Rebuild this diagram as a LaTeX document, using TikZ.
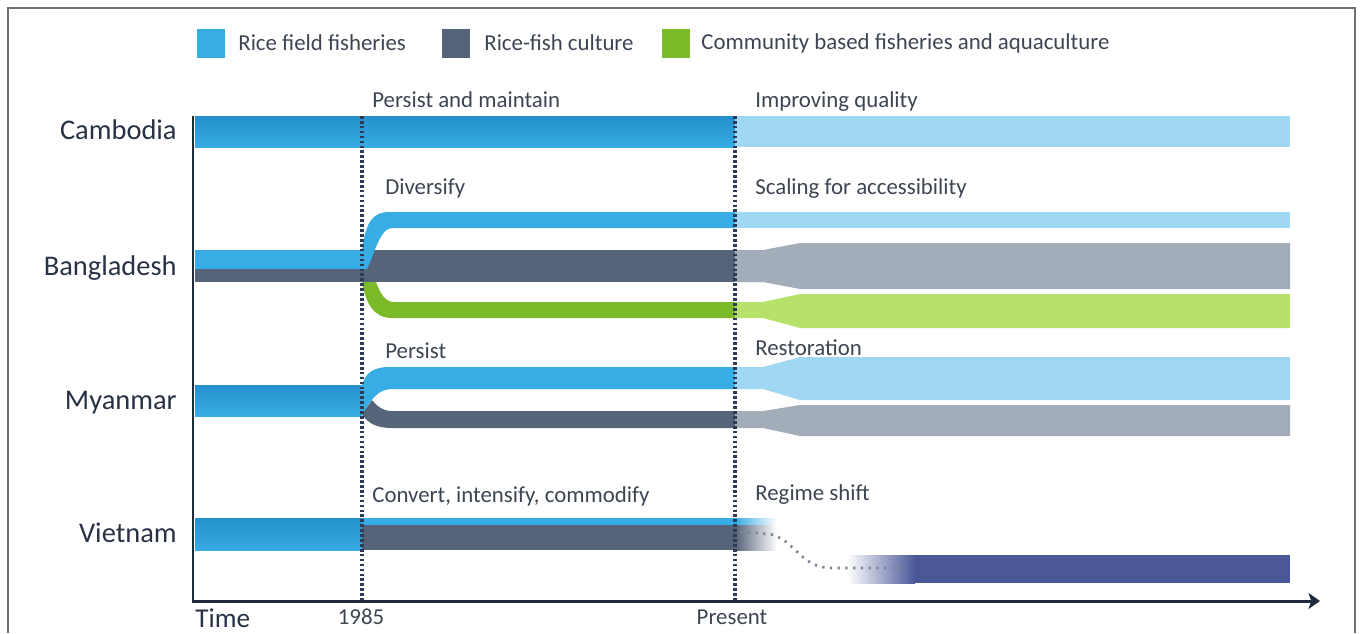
\documentclass[tikz,border=0pt]{standalone}
\usepackage{fontspec}
\setmainfont{Carlito}
\usetikzlibrary{arrows.meta}

\definecolor{rfblue}{HTML}{38ACE4}
\definecolor{rfdark}{HTML}{2390CC}
\definecolor{rflight}{HTML}{A0D7F3}
\definecolor{rcgrey}{HTML}{566479}
\definecolor{rclight}{HTML}{A3ADBA}
\definecolor{cbgreen}{HTML}{7BBB2A}
\definecolor{cblight}{HTML}{B6E26C}
\definecolor{regblue}{HTML}{4B5898}
\definecolor{txtgrey}{HTML}{3D4553}
\definecolor{ctrgrey}{HTML}{283244}
\definecolor{axisnavy}{HTML}{1F2A3C}
\definecolor{dotnavy}{HTML}{2E3B57}
\definecolor{dotgrey}{HTML}{7A8595}
\definecolor{framegrey}{HTML}{707070}

\begin{document}
\begin{tikzpicture}[x=0.02cm, y=-0.02cm,
every node/.style={inner sep=0pt, text=txtgrey},
country/.style={anchor=base east, text=ctrgrey, font=\fontsize{16.2}{19}\selectfont},
phase/.style={anchor=base west, font=\fontsize{13}{15}\selectfont},
legbox/.style={minimum width=0.56cm, minimum height=0.58cm},
marker/.style={dotnavy, line width=1.9pt, dash pattern=on 1.5pt off 1.3pt},
fadeline/.style={dotgrey, line width=1.5pt, dash pattern=on 1.3pt off 3.1pt},
axisline/.style={axisnavy, line width=1.7pt}]
\useasboundingbox (0,0) rectangle (1360,633);
%================================================================
% Frame
\draw[framegrey, line width=1.1pt] (8,633) -- (8,8) -- (1355,8) -- (1355,633);

%================================================================
% Legend
\node[legbox, fill=rfblue] (lrf) at (211,43) {};
\node[phase, anchor=west] (lrftext) at (238,43) {Rice field fisheries};
\node[legbox, fill=rcgrey] (lrc) at (456,43) {};
\node[phase, anchor=west] (lrctext) at (484,43) {Rice-fish culture};
\node[legbox, fill=cbgreen] (lcb) at (676,43) {};
\node[phase, anchor=west] (lcbtext) at (701,43) {Community based fisheries and aquaculture};

%================================================================
% Cambodia
\shade[top color=rfdark, bottom color=rfblue] (195,116) rectangle (735,147);
\fill[rflight] (735,116) rectangle (1290,147);

% --------------------------------
% Bangladesh
\fill[rfblue] (195,250) rectangle (362,269);
\fill[rcgrey] (195,269) rectangle (735,282);
\fill[rcgrey] (362,250) rectangle (735,282);
\fill[rfblue] (360,250) -- (362,250) .. controls (366,222) and (372,212) .. (390,212)
  -- (735,212) -- (735,228) -- (392,228) .. controls (380,228) and (374,255) .. (367,269)
  -- (360,269) -- cycle;
\fill[cbgreen] (362,282) .. controls (366,304) and (374,318) .. (392,318) -- (735,318)
  -- (735,302) -- (394,302) .. controls (385,302) and (380,293) .. (376,282) -- cycle;
\fill[rflight] (735,212) rectangle (1290,228);
\fill[rclight] (735,250) -- (763,250) -- (800,243) -- (1290,243) -- (1290,289)
  -- (800,289) -- (763,282) -- (735,282) -- cycle;
\fill[cblight] (735,302) -- (763,302) -- (800,294) -- (1290,294) -- (1290,328)
  -- (800,328) -- (763,318) -- (735,318) -- cycle;

% --------------------------------
% Myanmar
\shade[top color=rfdark, bottom color=rfblue] (195,385) rectangle (362,416);
\fill[rcgrey] (362,414) .. controls (368,424) and (378,428) .. (392,428) -- (735,428)
  -- (735,411) -- (392,411) .. controls (382,411) and (376,405) .. (372,400) -- cycle;
\fill[rfblue] (360,385) -- (362,385) .. controls (366,372) and (374,367) .. (390,367)
  -- (735,367) -- (735,389) -- (392,389) .. controls (378,389) and (370,400) .. (362,416)
  -- (360,416) -- cycle;
\fill[rflight] (735,367) -- (763,367) -- (800,357) -- (1290,357) -- (1290,400)
  -- (800,400) -- (763,389) -- (735,389) -- cycle;
\fill[rclight] (735,411) -- (763,411) -- (800,405) -- (1290,405) -- (1290,436)
  -- (800,436) -- (763,428) -- (735,428) -- cycle;

% --------------------------------
% Vietnam
\shade[top color=rfdark, bottom color=rfblue] (195,518) rectangle (362,550);
\fill[rfblue] (362,518) rectangle (735,525);
\fill[rcgrey] (362,525) rectangle (735,550);
\shade[left color=rfblue, right color=white] (735,518) rectangle (777,525);
\shade[left color=rcgrey, right color=white] (735,525) rectangle (777,550);
\shade[left color=white, right color=regblue] (847,555) rectangle (915,583);
\fill[regblue] (915,555) rectangle (1290,583);
\draw[fadeline] (740,532) -- (770,534) .. controls (795,540) and (800,567) .. (830,568) -- (905,568);

%================================================================
% Axis
\coordinate (ytop) at (193,116);
\coordinate (origin) at (193,601);
\coordinate (xend) at (1320,601);
\coordinate (m1top) at (362,116);
\coordinate (m1bot) at (362,600);
\coordinate (m2top) at (735,116);
\coordinate (m2bot) at (735,600);
\draw[marker] (m1top) -- (m1bot);
\draw[marker] (m2top) -- (m2bot);
\draw[axisline, -{Stealth[length=6.5pt, width=9pt, inset=1.5pt]}] (ytop) -- (origin) -- (xend);

\node[anchor=base west, text=ctrgrey, font=\fontsize{15.5}{18}\selectfont] (time) at (195,627) {Time};
\node[anchor=base, font=\fontsize{13}{15}\selectfont] (y1985) at (361,624) {1985};
\node[anchor=base, font=\fontsize{13}{15}\selectfont] (present) at (732,624) {Present};

%================================================================
% Labels
\node[country] (cambodia) at (177,139) {Cambodia};
\node[country] (bangladesh) at (177,275) {Bangladesh};
\node[country] (myanmar) at (177,409) {Myanmar};
\node[country] (vietnam) at (177,542) {Vietnam};

\node[phase] (camold) at (372,107) {Persist and maintain};
\node[phase] (camnew) at (755,107) {Improving quality};
\node[phase] (banold) at (385,194) {Diversify};
\node[phase] (bannew) at (755,194) {Scaling for accessibility};
\node[phase] (myaold) at (385,358) {Persist};
\node[phase] (myanew) at (755,355) {Restoration};
\node[phase] (vieold) at (372,502) {Convert, intensify, commodify};
\node[phase] (vienew) at (755,500) {Regime shift};

%================================================================
\end{tikzpicture}
\end{document}
